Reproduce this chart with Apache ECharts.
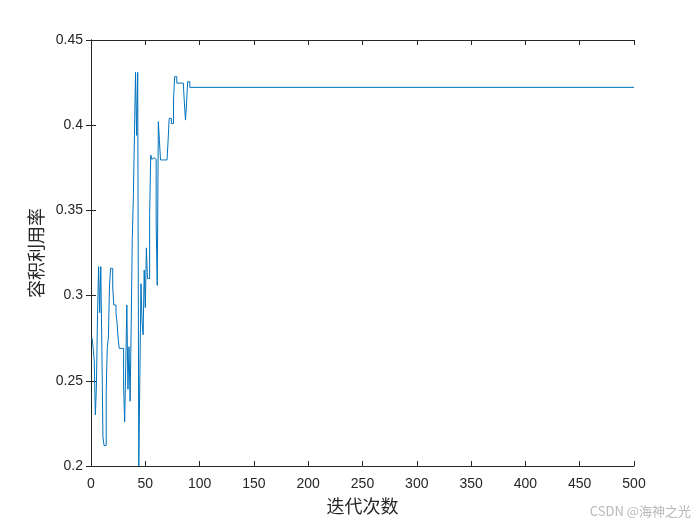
<!DOCTYPE html>
<html>
<head>
<meta charset="utf-8">
<script src="https://cdn.jsdelivr.net/npm/echarts@6/dist/echarts.min.js"></script>
<style>html,body{margin:0;padding:0;background:#fff;}#c{width:700px;height:525px;}</style>
</head>
<body>
<div id="c"></div>
<script>
// iteration numbers and utilisation values
var iterations = [1,2,3,4,5,6,7,8,9,10,11,12,13,14,15,16,17,18,19,20,
  21,22,23,24,25,26,27,28,29,30,31,32,33,34,35,36,37,38,39,40,
  41,42,43,44,45,46,47,48,49,50,51,52,53,54,55,56,57,58,59,60,
  61,62,63,64,65,66,67,68,69,70,71,72,73,74,75,76,77,78,79,80,
  81,82,83,84,85,86,87,88,89,90,91,500];
var utilisation = [0.275,0.269,0.262,0.230,0.247,0.289,0.317,0.290,0.317,0.269,
  0.217,0.212,0.212,0.244,0.270,0.275,0.305,0.316,0.316,0.305,
  0.2945,0.2945,0.290,0.284,0.275,0.269,0.269,0.269,0.269,0.2475,
  0.226,0.259,0.2945,0.245,0.270,0.238,0.282,0.333,0.358,0.394,
  0.431,0.394,0.431,0.200,0.253,0.307,0.285,0.277,0.315,0.293,
  0.328,0.310,0.310,0.347,0.3825,0.380,0.381,0.381,0.380,0.342,
  0.306,0.402,0.391,0.3796,0.3796,0.3796,0.3796,0.3796,0.3796,0.3796,
  0.391,0.404,0.404,0.401,0.401,0.4148,0.4285,0.4285,0.4247,0.4247,
  0.4247,0.4247,0.4247,0.4247,0.4247,0.413,0.403,0.413,0.4255,0.4255,
  0.4222,0.4222];
var xTicks = [0,50,100,150,200,250,300,350,400,450,500];
var yTicks = [0.2,0.25,0.3,0.35,0.4,0.45];

var axisCol = '#262626';
var chart = echarts.init(document.getElementById('c'));
var pts = iterations.map(function(x,i){return [x, utilisation[i]];});
var baseAxis = {
  axisLine:{show:true,lineStyle:{color:axisCol,width:1}},
  axisTick:{show:true,inside:true,length:5,lineStyle:{color:axisCol}},
  splitLine:{show:false}
};
chart.setOption({
  animation:false,
  backgroundColor:'#fff',
  grid:{left:91,right:66,top:40,bottom:59,show:false},
  xAxis:[
    Object.assign({}, baseAxis, {type:'value',min:xTicks[0],max:xTicks[xTicks.length-1],interval:50,position:'bottom',
      axisLabel:{color:axisCol,fontFamily:'Liberation Sans, Arial',fontSize:14,margin:11,
        formatter:function(v){return xTicks.indexOf(v)>=0?String(v):'';}},
      name:'迭代次数',nameLocation:'middle',nameGap:31,
      nameTextStyle:{color:axisCol,fontFamily:'Noto Sans CJK SC',fontSize:18}}),
    Object.assign({}, baseAxis, {type:'value',min:0,max:500,interval:50,position:'top',axisLabel:{show:false}})
  ],
  yAxis:[
    Object.assign({}, baseAxis, {type:'value',min:yTicks[0],max:yTicks[yTicks.length-1],interval:0.05,position:'left',
      axisLabel:{color:axisCol,fontFamily:'Liberation Sans, Arial',fontSize:14,margin:8,
        formatter:function(v){return String(Math.round(v*100)/100);}},
      name:'容积利用率',nameLocation:'middle',nameGap:46,
      nameTextStyle:{color:axisCol,fontFamily:'Noto Sans CJK SC',fontSize:18}}),
    Object.assign({}, baseAxis, {type:'value',min:0.2,max:0.45,interval:0.05,position:'right',axisLabel:{show:false}})
  ],
  series:[{
    type:'line',step:'end',data:pts,showSymbol:false,symbol:'none',
    lineStyle:{color:'#0072BD',width:1},xAxisIndex:0,yAxisIndex:0
  }],
  graphic:[{type:'text',right:9,bottom:7,style:{text:'CSDN @海神之光',fill:'#b8b8b8',fontSize:13,fontFamily:'Noto Sans CJK SC'}}]
});
</script>
</body>
</html>
